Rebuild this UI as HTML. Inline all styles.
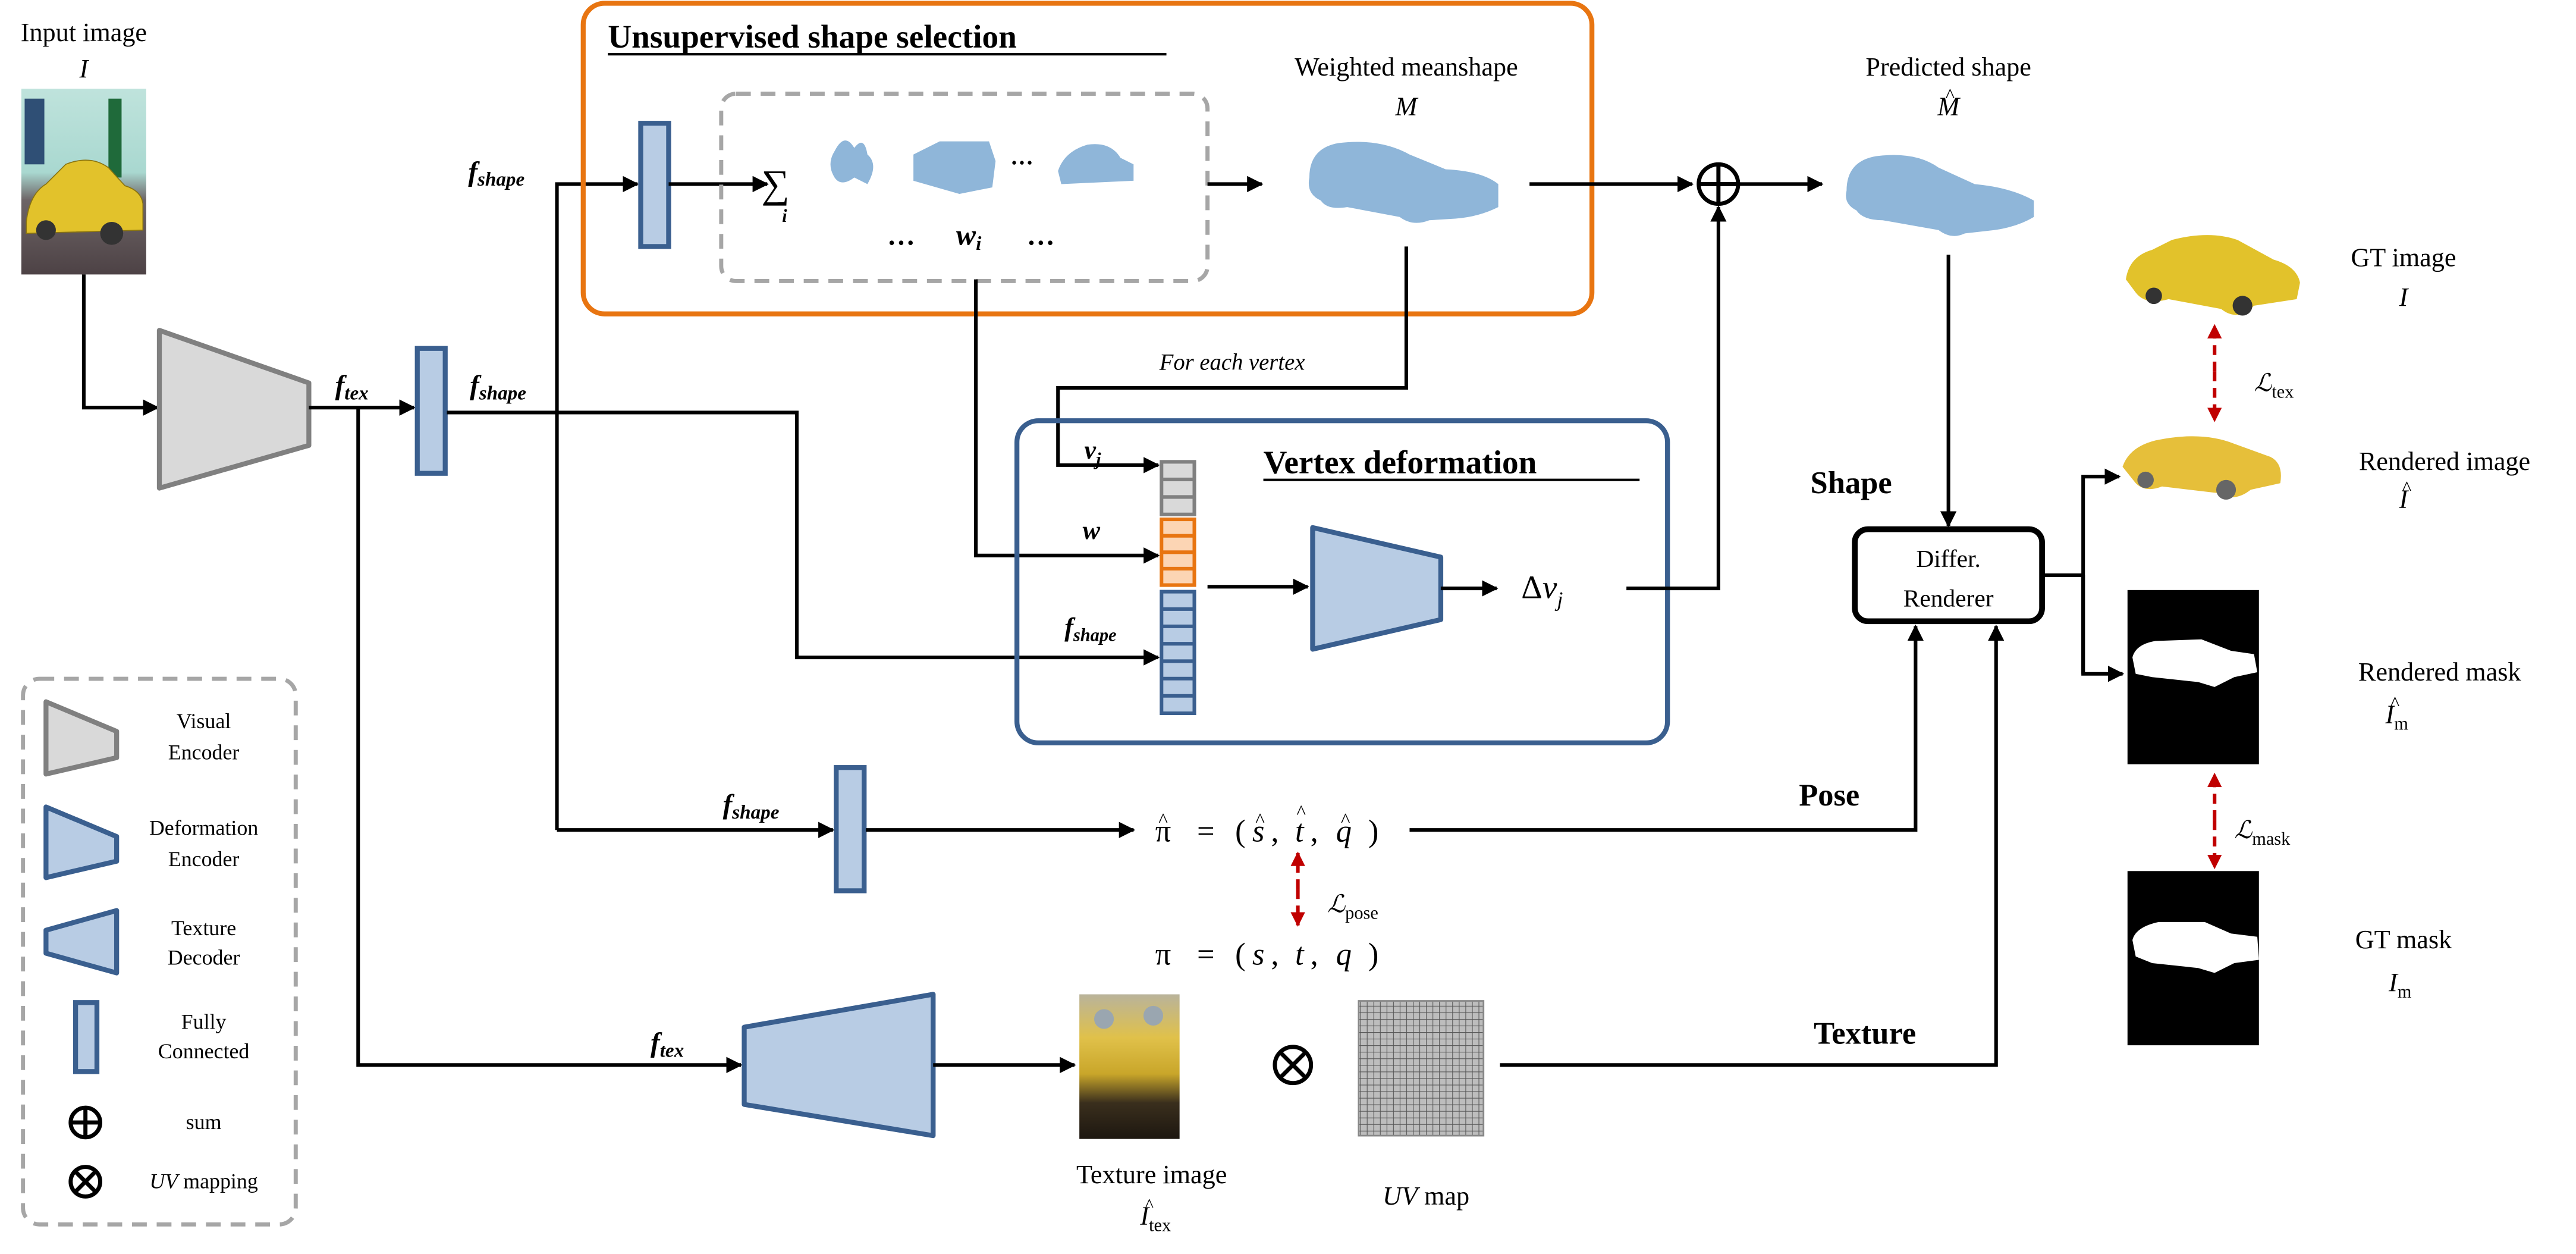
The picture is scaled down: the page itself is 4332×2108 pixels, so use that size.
<!DOCTYPE html>
<html><head><meta charset="utf-8"><style>
html,body{margin:0;padding:0;background:#fff;}
svg{display:block;font-family:"Liberation Serif","DejaVu Serif",serif;}
svg text{font-family:"Liberation Serif","DejaVu Serif",serif;fill:#000;}
.it{font-style:italic;}
.b{font-weight:bold;}
</style></head><body>
<svg width="4332" height="2108" viewBox="0 0 1568 763" xmlns="http://www.w3.org/2000/svg" font-family="Liberation Serif, serif">
<defs>
<marker id="ar" viewBox="0 0 10 10" refX="9" refY="5" markerWidth="4.5" markerHeight="4.5" orient="auto" markerUnits="strokeWidth"><path d="M0,0 L10,5 L0,10 z" fill="#000"/></marker>
<marker id="rar" viewBox="0 0 10 10" refX="9" refY="5" markerWidth="4" markerHeight="4" orient="auto" markerUnits="strokeWidth"><path d="M0,0 L10,5 L0,10 z" fill="#c00000"/></marker>
<linearGradient id="sky" x1="0" y1="0" x2="0" y2="1"><stop offset="0" stop-color="#bfe3dc"/><stop offset="0.45" stop-color="#a9d8d0"/><stop offset="0.6" stop-color="#6d6466"/><stop offset="1" stop-color="#4d4245"/></linearGradient>
<linearGradient id="tex" x1="0" y1="0" x2="0" y2="1"><stop offset="0" stop-color="#b9b39b"/><stop offset="0.3" stop-color="#e0c14a"/><stop offset="0.55" stop-color="#c9a62a"/><stop offset="0.75" stop-color="#3a2f1d"/><stop offset="1" stop-color="#1d1710"/></linearGradient>
<pattern id="grid" width="4" height="4" patternUnits="userSpaceOnUse"><rect width="4" height="4" fill="#bdbdbd"/><path d="M0,0 H4 M0,0 V4" stroke="#555" stroke-width="0.8"/></pattern>
</defs>

<!-- Input image -->
<text x="51" y="25" font-size="16" text-anchor="middle">Input image</text>
<text x="51" y="47" font-size="16" text-anchor="middle" class="it">I</text>
<rect x="13" y="54" width="76" height="113" fill="url(#sky)"/>
<rect x="15" y="60" width="12" height="40" fill="#2f4f75"/>
<rect x="66" y="60" width="8" height="48" fill="#1f6a3a"/>
<path d="M16,135 Q18,118 28,112 L40,100 Q55,94 66,102 L76,113 Q86,116 87,124 L87,140 L16,142 z" fill="#e2c22b" stroke="#8a7410" stroke-width="0.6"/>
<circle cx="28" cy="140" r="6" fill="#333"/><circle cx="68" cy="142" r="7" fill="#333"/>

<!-- flow from input -->
<path d="M51,167 V248 H96" fill="none" stroke="#000" stroke-width="2.2" marker-end="url(#ar)"/>
<polygon points="97,201 188,233 188,271 97,297" fill="#d9d9d9" stroke="#808080" stroke-width="3" stroke-linejoin="round"/>
<path d="M188,248 H252" fill="none" stroke="#000" stroke-width="2.2" marker-end="url(#ar)"/>
<text x="204" y="240" font-size="17" class="it b">f<tspan font-size="12" dy="3">tex</tspan></text>
<rect x="254" y="212" width="17" height="76" fill="#b8cce4" stroke="#3a5f8f" stroke-width="3"/>
<text x="286" y="240" font-size="17" class="it b">f<tspan font-size="12" dy="3">shape</tspan></text>
<path d="M272,251 H485 V400 H705" fill="none" stroke="#000" stroke-width="2.2" marker-end="url(#ar)"/>
<path d="M218,248 V648 H451" fill="none" stroke="#000" stroke-width="2.2" marker-end="url(#ar)"/>
<path d="M339,505 V112 H388" fill="none" stroke="#000" stroke-width="2.2" marker-end="url(#ar)"/>
<text x="285" y="110" font-size="17" class="it b">f<tspan font-size="12" dy="3">shape</tspan></text>

<!-- Unsupervised -->
<rect x="355" y="2" width="614" height="189" rx="13" fill="none" stroke="#e87511" stroke-width="3"/>
<text x="370" y="29" font-size="20" class="b">Unsupervised shape selection</text>
<line x1="370" y1="33" x2="710" y2="33" stroke="#000" stroke-width="1.5"/>
<rect x="390" y="75" width="17" height="75" fill="#b8cce4" stroke="#3a5f8f" stroke-width="3"/>
<path d="M407,112 H467" fill="none" stroke="#000" stroke-width="2.2" marker-end="url(#ar)"/>
<rect x="439" y="57" width="296" height="114" rx="9" fill="none" stroke="#a6a6a6" stroke-width="2.5" stroke-dasharray="9,6"/>
<text x="472" y="120" font-size="24" text-anchor="middle">∑</text>
<text x="476" y="135" font-size="11" class="it b">i</text>
<path d="M508,92 Q514,80 520,90 Q526,82 528,94 Q535,100 528,112 L520,108 Q512,114 508,108 Q503,100 508,92z" fill="#8fb6d9"/>
<path d="M556,94 L572,86 L602,86 L606,98 L604,114 L584,118 L556,110 z" fill="#8fb6d9"/>
<text x="615" y="100" font-size="14" class="b">…</text>
<path d="M644,104 Q648,92 662,88 Q676,86 682,96 L690,100 L690,110 L646,112 z" fill="#8fb6d9"/>
<text x="540" y="149" font-size="17" class="b">…</text>
<text x="582" y="149" font-size="18" class="it b">w<tspan font-size="12" dy="3">i</tspan></text>
<text x="625" y="149" font-size="17" class="b">…</text>
<path d="M735,112 H768" fill="none" stroke="#000" stroke-width="2.2" marker-end="url(#ar)"/>
<text x="856" y="46" font-size="16" text-anchor="middle">Weighted meanshape</text>
<text x="856" y="70" font-size="16" text-anchor="middle" class="it">M</text>
<path d="M797,108 Q797,90 815,87 Q840,84 858,94 L880,103 Q902,104 912,112 L912,126 Q900,132 886,133 L870,134 Q860,138 852,132 L820,126 Q808,128 804,122 Q795,118 797,108z" fill="#8fb6d9"/>

<path d="M931,112 H1030" fill="none" stroke="#000" stroke-width="2.2" marker-end="url(#ar)"/>
<circle cx="1046" cy="112" r="12" fill="none" stroke="#000" stroke-width="2.5"/>
<path d="M1034,112 H1058 M1046,100 V124" stroke="#000" stroke-width="2.5"/>
<path d="M1058,112 H1109" fill="none" stroke="#000" stroke-width="2.2" marker-end="url(#ar)"/>
<text x="1186" y="46" font-size="16" text-anchor="middle">Predicted shape</text>
<text x="1186" y="70" font-size="16" text-anchor="middle" class="it">M</text>
<text x="1187" y="62" font-size="12" text-anchor="middle">^</text>
<path d="M1124,116 Q1124,98 1142,95 Q1166,92 1180,102 L1202,112 Q1224,114 1238,122 L1238,132 Q1228,138 1214,140 L1196,142 Q1188,146 1180,140 L1146,134 Q1134,134 1130,128 Q1122,124 1124,116z" fill="#8fb6d9"/>

<!-- for each vertex -->
<path d="M856,150 V236 H644 V283 H705" fill="none" stroke="#000" stroke-width="2.2" marker-end="url(#ar)"/>
<text x="750" y="225" font-size="14" text-anchor="middle" class="it">For each vertex</text>
<path d="M594,170 V338 H705" fill="none" stroke="#000" stroke-width="2.2" marker-end="url(#ar)"/>

<!-- Vertex deformation -->
<rect x="619" y="256" width="396" height="196" rx="13" fill="none" stroke="#3a5f8f" stroke-width="3"/>
<text x="769" y="288" font-size="20" class="b">Vertex deformation</text>
<line x1="769" y1="292" x2="998" y2="292" stroke="#000" stroke-width="1.5"/>
<text x="660" y="279" font-size="16" class="it b">v<tspan font-size="11" dy="4">j</tspan></text>
<text x="659" y="328" font-size="16" class="it b">w</text>
<text x="648" y="387" font-size="16" class="it b">f<tspan font-size="11" dy="3">shape</tspan></text>
<g stroke-width="2.2">
<rect x="707" y="281" width="20" height="32" fill="#d9d9d9" stroke="#808080"/>
<path d="M707,291.7 H727 M707,302.4 H727" stroke="#808080"/>
<rect x="707" y="316" width="20" height="40" fill="#fcd5b4" stroke="#e87511"/>
<path d="M707,326 H727 M707,336 H727 M707,346 H727" stroke="#e87511"/>
<rect x="707" y="360" width="20" height="74" fill="#b8cce4" stroke="#3a5f8f"/>
<path d="M707,370.6 H727 M707,381.1 H727 M707,391.7 H727 M707,402.3 H727 M707,412.9 H727 M707,423.4 H727" stroke="#3a5f8f"/>
</g>
<path d="M735,357 H796" fill="none" stroke="#000" stroke-width="2.2" marker-end="url(#ar)"/>
<polygon points="799,321 877,339 877,377 799,395" fill="#b8cce4" stroke="#3a5f8f" stroke-width="3" stroke-linejoin="round"/>
<path d="M877,358 H911" fill="none" stroke="#000" stroke-width="2.2" marker-end="url(#ar)"/>
<text x="926" y="364" font-size="20">Δ<tspan class="it">v</tspan><tspan font-size="13" dy="5" class="it">j</tspan></text>
<path d="M990,358 H1046 V126" fill="none" stroke="#000" stroke-width="2.2" marker-end="url(#ar)"/>

<!-- renderer -->
<path d="M1186,155 V320" fill="none" stroke="#000" stroke-width="2.2" marker-end="url(#ar)"/>
<text x="1102" y="300" font-size="19" class="b">Shape</text>
<rect x="1129" y="322" width="114" height="56" rx="8" fill="#fff" stroke="#000" stroke-width="3.5"/>
<text x="1186" y="345" font-size="15" text-anchor="middle">Differ.</text>
<text x="1186" y="369" font-size="15" text-anchor="middle">Renderer</text>
<path d="M1243,350 H1268" fill="none" stroke="#000" stroke-width="2.2"/>
<path d="M1268,410 V290 H1290" fill="none" stroke="#000" stroke-width="2.2" marker-end="url(#ar)"/>
<path d="M1268,350 V410 H1292" fill="none" stroke="#000" stroke-width="2.2" marker-end="url(#ar)"/>

<!-- pose -->
<rect x="509" y="467" width="17" height="75" fill="#b8cce4" stroke="#3a5f8f" stroke-width="3"/>
<text x="440" y="495" font-size="17" class="it b">f<tspan font-size="12" dy="3">shape</tspan></text>
<path d="M339,505 H507" fill="none" stroke="#000" stroke-width="2.2" marker-end="url(#ar)"/>
<path d="M527,505 H690" fill="none" stroke="#000" stroke-width="2.2" marker-end="url(#ar)"/>
<g font-size="19" text-anchor="middle">
<text x="708" y="512">π</text><text x="734" y="512">=</text><text x="755" y="512">(</text>
<text x="766" y="512" class="it">s</text><text x="776" y="512">,</text>
<text x="791" y="512" class="it">t</text><text x="800" y="512">,</text>
<text x="818" y="512" class="it">q</text><text x="836" y="512">)</text>
<text x="708" y="587">π</text><text x="734" y="587">=</text><text x="755" y="587">(</text>
<text x="766" y="587" class="it">s</text><text x="776" y="587">,</text>
<text x="791" y="587" class="it">t</text><text x="800" y="587">,</text>
<text x="818" y="587" class="it">q</text><text x="836" y="587">)</text>
</g>
<g font-size="12" text-anchor="middle">
<text x="708" y="503">^</text><text x="767" y="503">^</text><text x="792" y="498">^</text><text x="819" y="503">^</text>
</g>
<path d="M858,505 H1166 V381" fill="none" stroke="#000" stroke-width="2.2" marker-end="url(#ar)"/>
<text x="1095" y="490" font-size="19" class="b">Pose</text>
<path d="M790,541 V519" fill="none" stroke="#c00000" stroke-width="2.2" stroke-dasharray="6,4" marker-end="url(#rar)"/>
<path d="M790,541 V563" fill="none" stroke="#c00000" stroke-width="2.2" stroke-dasharray="6,4" marker-end="url(#rar)"/>
<text x="808" y="555" font-size="15" class="it">ℒ<tspan font-size="11" font-style="normal" dy="4">pose</tspan></text>

<!-- texture -->
<text x="396" y="640" font-size="17" class="it b">f<tspan font-size="12" dy="3">tex</tspan></text>
<polygon points="453,625 568,605 568,691 453,672" fill="#b8cce4" stroke="#3a5f8f" stroke-width="3" stroke-linejoin="round"/>
<path d="M568,648 H654" fill="none" stroke="#000" stroke-width="2.2" marker-end="url(#ar)"/>
<rect x="657" y="605" width="61" height="88" fill="url(#tex)"/>
<circle cx="672" cy="620" r="6" fill="#9aa6b0"/><circle cx="702" cy="618" r="6" fill="#9aa6b0"/>
<circle cx="787" cy="648" r="11" fill="none" stroke="#000" stroke-width="2.5"/>
<path d="M779,640 L795,656 M795,640 L779,656" stroke="#000" stroke-width="2.5"/>
<rect x="827" y="609" width="76" height="82" fill="url(#grid)" stroke="#888" stroke-width="1"/>
<path d="M913,648 H1215 V381" fill="none" stroke="#000" stroke-width="2.2" marker-end="url(#ar)"/>
<text x="1104" y="635" font-size="19" class="b">Texture</text>
<text x="701" y="720" font-size="16" text-anchor="middle">Texture image</text>
<text x="694" y="745" font-size="16" class="it">I<tspan font-size="11" font-style="normal" dy="4">tex</tspan></text>
<text x="697" y="737" font-size="11">^</text>
<text x="868" y="733" font-size="16" text-anchor="middle"><tspan class="it">UV</tspan> map</text>

<!-- right column -->
<path d="M1294,170 Q1296,156 1310,152 L1322,146 Q1345,140 1362,146 L1384,158 Q1398,162 1400,172 L1398,182 L1372,186 Q1362,196 1352,188 L1320,182 Q1306,186 1300,178z" fill="#e2c22b"/>
<circle cx="1311" cy="180" r="5" fill="#333"/><circle cx="1365" cy="186" r="6" fill="#333"/>
<text x="1463" y="162" font-size="16" text-anchor="middle">GT image</text>
<text x="1463" y="186" font-size="16" text-anchor="middle" class="it">I</text>
<path d="M1348,226 V198" fill="none" stroke="#c00000" stroke-width="2.2" stroke-dasharray="6,4" marker-end="url(#rar)"/>
<path d="M1348,226 V256" fill="none" stroke="#c00000" stroke-width="2.2" stroke-dasharray="6,4" marker-end="url(#rar)"/>
<text x="1372" y="238" font-size="15" class="it">ℒ<tspan font-size="11" font-style="normal" dy="4">tex</tspan></text>
<path d="M1292,284 Q1296,272 1312,268 Q1340,262 1360,270 L1382,278 Q1390,282 1388,294 L1370,298 Q1360,306 1350,300 L1316,296 Q1306,300 1300,294z" fill="#e6bf3a"/>
<circle cx="1306" cy="292" r="5" fill="#666"/><circle cx="1355" cy="298" r="6" fill="#666"/>
<text x="1488" y="286" font-size="16" text-anchor="middle">Rendered image</text>
<text x="1463" y="309" font-size="16" text-anchor="middle" class="it">I</text>
<text x="1465" y="301" font-size="12" text-anchor="middle">^</text>
<rect x="1295" y="359" width="80" height="106" fill="#000"/>
<path d="M1298,400 Q1300,392 1312,390 L1340,389 L1358,396 L1372,398 L1374,409 L1360,412 L1348,418 L1338,415 L1310,412 L1300,410z" fill="#fff"/>
<text x="1485" y="414" font-size="16" text-anchor="middle">Rendered mask</text>
<text x="1452" y="440" font-size="16" class="it">I<tspan font-size="11" font-style="normal" dy="4">m</tspan></text>
<text x="1455" y="432" font-size="12">^</text>
<path d="M1348,499 V471" fill="none" stroke="#c00000" stroke-width="2.2" stroke-dasharray="6,4" marker-end="url(#rar)"/>
<path d="M1348,499 V528" fill="none" stroke="#c00000" stroke-width="2.2" stroke-dasharray="6,4" marker-end="url(#rar)"/>
<text x="1360" y="510" font-size="15" class="it">ℒ<tspan font-size="11" font-style="normal" dy="4">mask</tspan></text>
<rect x="1295" y="530" width="80" height="106" fill="#000"/>
<path d="M1298,572 Q1300,564 1314,561 L1342,561 L1358,568 L1374,570 L1375,584 L1360,586 L1348,592 L1338,589 L1310,586 L1300,582z" fill="#fff"/>
<text x="1463" y="577" font-size="16" text-anchor="middle">GT mask</text>
<text x="1454" y="603" font-size="16" class="it">I<tspan font-size="11" font-style="normal" dy="4">m</tspan></text>

<!-- legend -->
<rect x="14" y="413" width="166" height="332" rx="10" fill="none" stroke="#a6a6a6" stroke-width="2.5" stroke-dasharray="9,6"/>
<polygon points="28,427 71,445 71,461 28,471" fill="#d9d9d9" stroke="#808080" stroke-width="3" stroke-linejoin="round"/>
<text x="124" y="443" font-size="13" text-anchor="middle">Visual</text>
<text x="124" y="462" font-size="13" text-anchor="middle">Encoder</text>
<polygon points="28,491 71,509 71,524 28,534" fill="#b8cce4" stroke="#3a5f8f" stroke-width="3" stroke-linejoin="round"/>
<text x="124" y="508" font-size="13" text-anchor="middle">Deformation</text>
<text x="124" y="527" font-size="13" text-anchor="middle">Encoder</text>
<polygon points="28,566 71,554 71,592 28,580" fill="#b8cce4" stroke="#3a5f8f" stroke-width="3" stroke-linejoin="round"/>
<text x="124" y="569" font-size="13" text-anchor="middle">Texture</text>
<text x="124" y="587" font-size="13" text-anchor="middle">Decoder</text>
<rect x="46" y="610" width="13" height="42" fill="#b8cce4" stroke="#3a5f8f" stroke-width="3"/>
<text x="124" y="626" font-size="13" text-anchor="middle">Fully</text>
<text x="124" y="644" font-size="13" text-anchor="middle">Connected</text>
<circle cx="52" cy="683" r="9" fill="none" stroke="#000" stroke-width="2.5"/>
<path d="M43,683 H61 M52,674 V692" stroke="#000" stroke-width="2.5"/>
<text x="124" y="687" font-size="13" text-anchor="middle">sum</text>
<circle cx="52" cy="719" r="9" fill="none" stroke="#000" stroke-width="2.5"/>
<path d="M46,713 L58,725 M58,713 L46,725" stroke="#000" stroke-width="2.5"/>
<text x="124" y="723" font-size="13" text-anchor="middle"><tspan class="it">UV</tspan> mapping</text>
</svg>
</body></html>
